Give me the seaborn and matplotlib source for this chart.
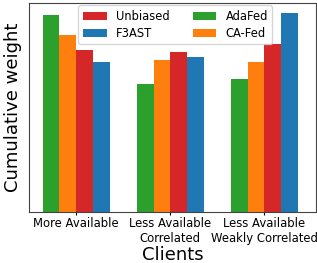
import pandas as pd
import seaborn as sns
import matplotlib
matplotlib.use("Agg")
import matplotlib.pyplot as plt

groups = ["More Available", "Less Available\nCorrelated",
          "Less Available\nWeakly Correlated"]
methods = ["AdaFed", "CA-Fed", "Unbiased", "F3AST"]
adafed = [0.590, 0.385, 0.400]
cafed = [0.530, 0.457, 0.449]
unbiased = [0.487, 0.481, 0.503]
f3ast = [0.451, 0.466, 0.596]
colors = {"Unbiased": "#d62728", "F3AST": "#1f77b4",
          "AdaFed": "#2ca02c", "CA-Fed": "#ff7f0e"}


def build_df():
    rows = []
    for name, vals in zip(methods, [adafed, cafed, unbiased, f3ast]):
        for g, v in zip(groups, vals):
            rows.append({"Clients": g, "method": name, "weight": v})
    return pd.DataFrame(rows)


def main():
    df = build_df()
    fig, ax = plt.subplots(figsize=(3.17, 2.63), dpi=100)
    sns.barplot(data=df, x="Clients", y="weight", hue="method",
                hue_order=methods, palette=colors, width=0.71,
                saturation=1, gap=0, ax=ax)
    ax.set_ylim(0, 0.627)
    ax.set_xlim(-0.5, 2.55)
    ax.set_yticks([])
    ax.tick_params(axis="x", labelsize=8.4, length=2, pad=1.5)
    ax.set_xlabel("Clients", fontsize=13, labelpad=1)
    ax.set_ylabel("Cumulative weight", fontsize=13, labelpad=5)
    for sp in ax.spines.values():
        sp.set_color("#444444")
    handles, labels = ax.get_legend_handles_labels()
    order = [labels.index(m) for m in ["Unbiased", "F3AST", "AdaFed", "CA-Fed"]]
    ax.legend([handles[i] for i in order], [labels[i] for i in order],
              loc="upper center", ncol=2, fontsize=8.3,
              bbox_to_anchor=(0.51, 1.0), handlelength=2.05,
              handleheight=0.65, labelspacing=0.35,
              borderaxespad=0.2, columnspacing=2.0)
    fig.subplots_adjust(left=0.092, right=0.997, bottom=0.194, top=0.989)
    fig.savefig("out.png", dpi=100)


if __name__ == "__main__":
    main()
